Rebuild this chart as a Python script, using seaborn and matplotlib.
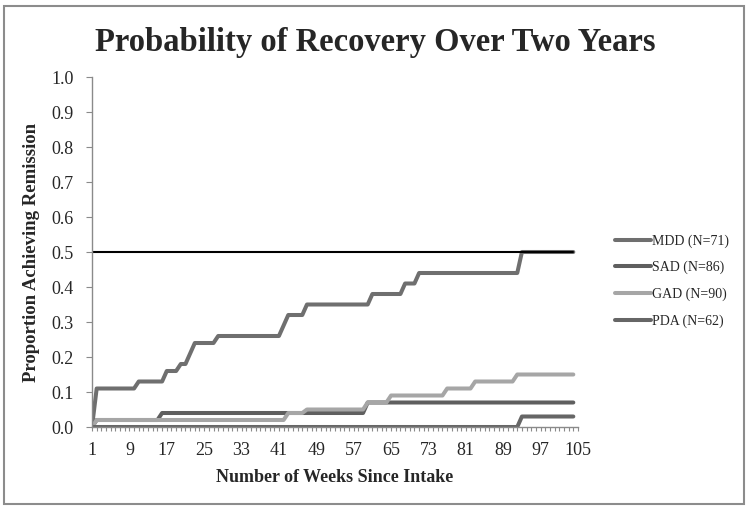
# Probability of recovery over two years, by diagnosis group

import numpy as np
import pandas as pd
import matplotlib.pyplot as plt
import seaborn as sns
from matplotlib.patches import Rectangle

# --- data ---
weeks = list(range(1, 105))
groups = ["MDD (N=71)", "SAD (N=86)", "GAD (N=90)", "PDA (N=62)"]

mdd = ([0.0] + [0.11] * 9 + [0.13] * 6 + [0.16] * 3 + [0.18] * 2 + [0.21]
       + [0.24] * 5 + [0.26] * 14 + [0.29] + [0.32] * 4 + [0.35] * 14
       + [0.38] * 7 + [0.41] * 3 + [0.44] * 22 + [0.50] * 12)
sad = [0.0] + [0.02] * 14 + [0.04] * 44 + [0.07] * 45
gad = ([0.0] + [0.02] * 41 + [0.04] * 4 + [0.05] * 13 + [0.07] * 5
       + [0.09] * 12 + [0.11] * 6 + [0.13] * 9 + [0.15] * 13)
pda = [0.0] * 92 + [0.03] * 12
reference = [0.5] * 104

x_ticklabels = [1, 9, 17, 25, 33, 41, 49, 57, 65, 73, 81, 89, 97, 105]

df = pd.DataFrame({
    "week": weeks * 4,
    "value": mdd + sad + gad + pda,
    "group": np.repeat(groups, len(weeks)),
})
ref_df = pd.DataFrame({"week": weeks, "value": reference})

# --- style ---
sns.set_style("white")
plt.rcParams["font.family"] = ["Liberation Serif", "DejaVu Serif"]
palette = {"MDD (N=71)": "#6f6f6f", "SAD (N=86)": "#5f5f5f",
           "GAD (N=90)": "#a6a6a6", "PDA (N=62)": "#666666"}
axis_grey = "#8a8a8a"

fig = plt.figure(figsize=(7.5, 5.11), dpi=100)
ax = fig.add_axes([92 / 750, 84 / 511, 486 / 750, 350 / 511])

sns.lineplot(data=df, x="week", y="value", hue="group", hue_order=groups,
             palette=palette, linewidth=2.9, ax=ax)
sns.lineplot(data=ref_df, x="week", y="value", color="black",
             linewidth=1.5, ax=ax, legend=False)

ax.set_xlim(1, 105)
ax.set_ylim(0, 1.0)
ax.set_yticks(np.arange(0, 1.01, 0.1))
ax.set_yticklabels([f"{v:.1f}" for v in np.arange(0, 1.01, 0.1)], fontsize=13)
ax.set_xticks(range(1, 106))
ax.set_xticklabels([str(w) if w in x_ticklabels else "" for w in range(1, 106)],
                   fontsize=13)
ax.tick_params(axis="x", direction="out", length=3, width=0.8, color=axis_grey,
               bottom=True, pad=8)
ax.tick_params(axis="y", direction="out", length=4, width=0.8, color=axis_grey,
               left=True, pad=9)

sns.despine(ax=ax)
for side in ["left", "bottom"]:
    ax.spines[side].set_color(axis_grey)
    ax.spines[side].set_linewidth(1.0)

ax.set_xlabel("Number of Weeks Since Intake", fontsize=13, fontweight="bold",
              labelpad=7)
ax.set_ylabel("Proportion Achieving Remission", fontsize=13.5, fontweight="bold",
              labelpad=8)

fig.text(0.5, 1 - 42 / 511, "Probability of Recovery Over Two Years",
         ha="center", va="center", fontsize=23.5, fontweight="bold")

leg = ax.legend(loc="center left", bbox_to_anchor=(615 / 750, 1 - 281 / 511),
                bbox_transform=fig.transFigure, frameon=False, fontsize=10,
                handlelength=2.6, handletextpad=0.1, labelspacing=0.95,
                borderpad=0, borderaxespad=0)
for line in leg.get_lines():
    line.set_linewidth(2.9)

# chart area border
fig.patches.append(Rectangle((4 / 750, 7 / 511), 740 / 750, 498 / 511,
                             transform=fig.transFigure, fill=False,
                             edgecolor="#8c8c8c", linewidth=1.5))

fig.savefig("out.png", dpi=100)
